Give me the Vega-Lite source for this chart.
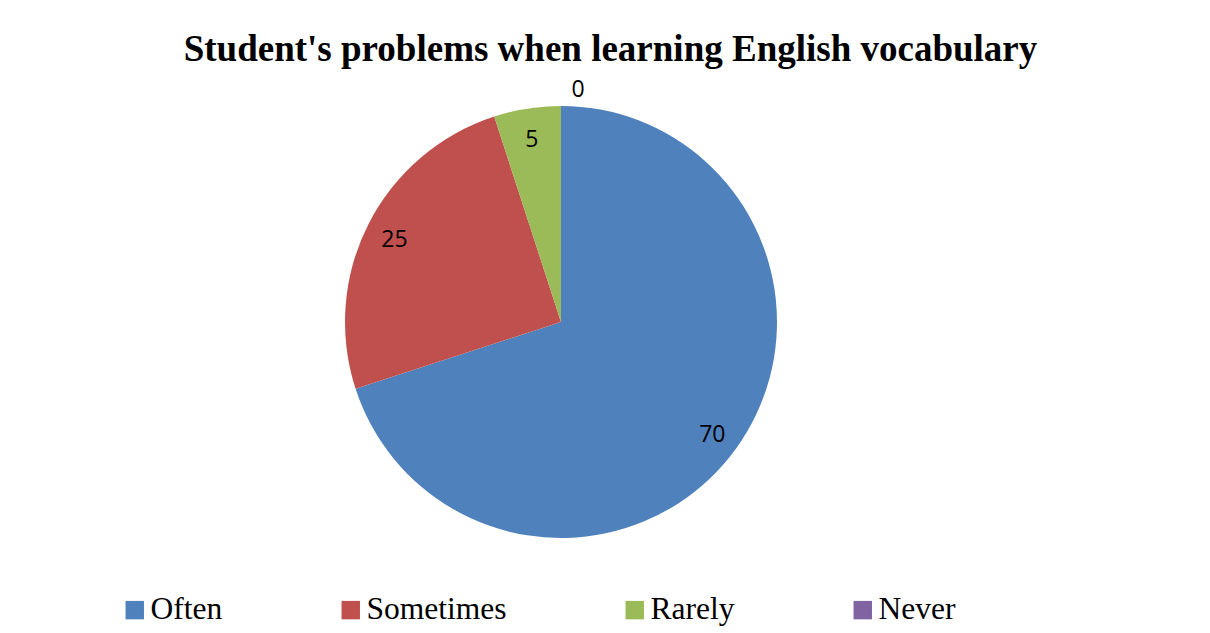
{
  "$schema": "https://vega.github.io/schema/vega-lite/v6.json",
  "width": 1210,
  "height": 633,
  "autosize": {"type": "fit", "contains": "padding"},
  "padding": {"left": 0, "top": 11, "right": 88, "bottom": 0},
  "background": "white",
  "title": {
    "text": "Student's problems when learning English vocabulary",
    "font": "Liberation Serif",
    "fontSize": 37,
    "fontWeight": "bold",
    "color": "black",
    "anchor": "middle",
    "frame": "group",
    "dx": 49.5,
    "offset": -58
  },
  "data": {
    "values": [
      {"category": "Often", "value": 70, "order": 1},
      {"category": "Sometimes", "value": 25, "order": 2},
      {"category": "Rarely", "value": 5, "order": 3},
      {"category": "Never", "value": 0, "order": 4}
    ]
  },
  "encoding": {
    "theta": {"field": "value", "type": "quantitative", "stack": true},
    "order": {"field": "order", "type": "quantitative"},
    "detail": {"field": "category", "type": "nominal"},
    "color": {
      "field": "category",
      "type": "nominal",
      "scale": {
        "domain": ["Often", "Sometimes", "Rarely", "Never"],
        "range": ["#4F81BD", "#C0504D", "#9BBB59", "#8064A2"]
      },
      "legend": {
        "title": null,
        "orient": "none",
        "legendX": 119,
        "legendY": 583,
        "direction": "horizontal",
        "columns": 4,
        "columnPadding": 112,
        "symbolType": "square",
        "symbolSize": 340,
        "symbolStrokeWidth": 0,
        "symbolOpacity": 1,
        "labelFont": "Liberation Serif",
        "labelFontSize": 31.5,
        "labelColor": "black",
        "labelOffset": 0,
        "labelLimit": 0,
        "padding": 0
      }
    }
  },
  "layer": [
    {"mark": {"type": "arc", "outerRadius": 216, "stroke": null, "opacity": 1}},
    {
      "transform": [{"filter": "datum.value > 0"}],
      "mark": {"type": "text", "radius": 187, "dy": 3, "font": "Open Sans", "fontSize": 23},
      "encoding": {
        "text": {"field": "value", "type": "quantitative"},
        "color": {"value": "black"}
      }
    },
    {
      "transform": [{"filter": "datum.value == 0"}],
      "mark": {"type": "text", "radius": 232, "dx": 17, "font": "Open Sans", "fontSize": 23},
      "encoding": {
        "text": {"field": "value", "type": "quantitative"},
        "color": {"value": "black"}
      }
    }
  ],
  "config": {"view": {"stroke": null}}
}
